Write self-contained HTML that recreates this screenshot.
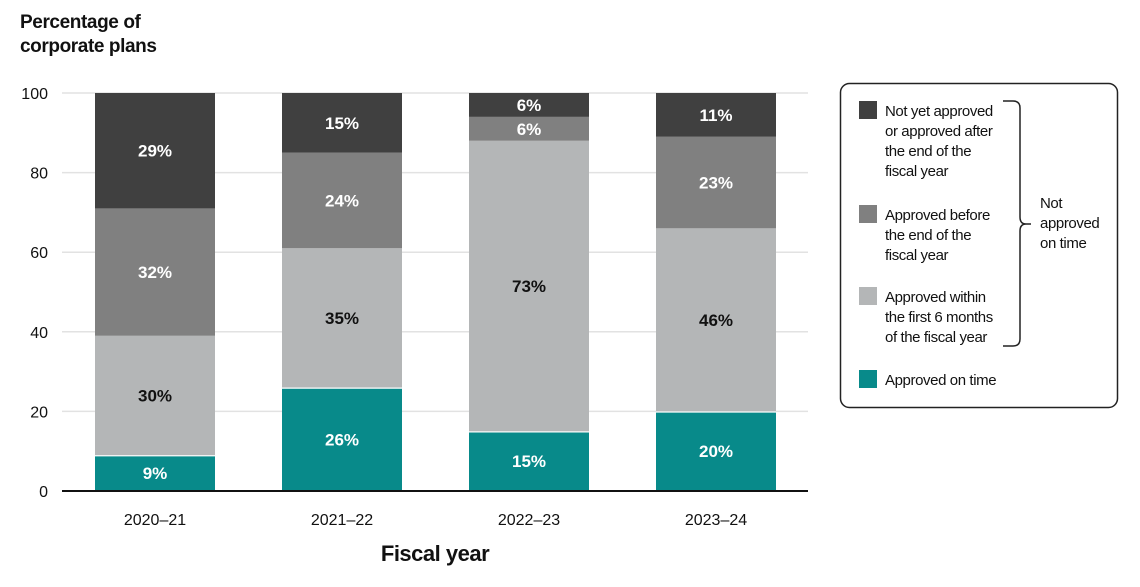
<!DOCTYPE html>
<html><head><meta charset="utf-8"><style>
body{margin:0;background:#fff;}
svg text{font-family:"Liberation Sans Narrow","Liberation Sans",sans-serif;}
</style></head><body>
<svg id="chart" width="1140" height="582" viewBox="0 0 1140 582">
<text x="20" y="28" font-size="19" font-weight="bold" fill="#111" letter-spacing="-0.4"><tspan x="20">Percentage of</tspan><tspan x="20" dy="24">corporate plans</tspan></text>
<g id="grid"></g><g id="bars"></g><g id="labels"></g>
<text x="435" y="561" font-size="22" font-weight="bold" text-anchor="middle" fill="#111" letter-spacing="-0.5">Fiscal year</text>
<g letter-spacing="-0.4">
<rect x="840.5" y="83.5" width="277" height="324" rx="9" fill="#fff" stroke="#222" stroke-width="1.5"/>
<rect x="859" y="101" width="18" height="18" fill="#404040"/>
<text font-size="15" fill="#111"><tspan x="885" y="116">Not yet approved</tspan><tspan x="885" y="136">or approved after</tspan><tspan x="885" y="156">the end of the</tspan><tspan x="885" y="176">fiscal year</tspan></text>
<rect x="859" y="205" width="18" height="18" fill="#808080"/>
<text font-size="15" fill="#111"><tspan x="885" y="220">Approved before</tspan><tspan x="885" y="240">the end of the</tspan><tspan x="885" y="260">fiscal year</tspan></text>
<rect x="859" y="287" width="18" height="18" fill="#b4b6b7"/>
<text font-size="15" fill="#111"><tspan x="885" y="302">Approved within</tspan><tspan x="885" y="322">the first 6 months</tspan><tspan x="885" y="342">of the fiscal year</tspan></text>
<rect x="859" y="370" width="18" height="18" fill="#088a8a"/>
<text x="885" y="385" font-size="15" fill="#111">Approved on time</text>
<path d="M1003 101 H1013 Q1020 101 1020 108 V217 Q1020 224 1026 224 H1031 M1026 224 Q1020 224 1020 231 V339 Q1020 346 1013 346 H1003" fill="none" stroke="#222" stroke-width="1.5"/>
<text font-size="15" fill="#111"><tspan x="1040" y="208">Not</tspan><tspan x="1040" y="228">approved</tspan><tspan x="1040" y="248">on time</tspan></text>
</g>
</svg>
<script>
const categories=["2020–21","2021–22","2022–23","2023–24"];
const onTime=[9,26,15,20];
const sixMonths=[30,35,73,46];
const beforeEnd=[32,24,6,23];
const late=[29,15,6,11];
const yTicks=[0,20,40,60,80,100];
const NS="http://www.w3.org/2000/svg";
const x0=62,x1=808,y0=491,yTop=93;
const y=v=>y0-(v/100)*(y0-yTop);
const step=187,bw=120,firstCenter=155;
const cx=i=>firstCenter+i*step;
function mk(tag,attrs,parent){const e=document.createElementNS(NS,tag);for(const k in attrs)e.setAttribute(k,attrs[k]);parent.appendChild(e);return e;}
const grid=document.getElementById('grid'),bars=document.getElementById('bars'),labels=document.getElementById('labels');
yTicks.forEach(t=>{
 if(t>0){const l=mk('line',{x1:x0,x2:x1,y1:y(t),y2:y(t),stroke:'#e2e2e2','stroke-width':1.5},grid);
 
 }
 const tx=mk('text',{x:48,y:y(t)+6,'font-size':16,'text-anchor':'end',fill:'#111'},grid);
 
 
 tx.textContent=t;
});
const series=[{d:onTime,c:'#088a8a',tc:'#fff',n:'on-time'},{d:sixMonths,c:'#b4b6b7',tc:'#111',n:'six-months'},{d:beforeEnd,c:'#808080',tc:'#fff',n:'before-end'},{d:late,c:'#404040',tc:'#fff',n:'late'}];
categories.forEach((cat,i)=>{
 let base=0;
 series.forEach((s,si)=>{
  const v=s.d[i];const top=base+v;
  const yt=y(top),yb=y(base);
  const r=mk('rect',{x:cx(i)-bw/2,y:yt,width:bw,height:Math.max(0,yb-yt),fill:s.c},bars);
  
  
  if(si===0){const w=mk('line',{x1:cx(i)-bw/2,x2:cx(i)+bw/2,y1:yt,y2:yt,stroke:'#fff','stroke-width':2.5},bars);
   
   }
  const t=mk('text',{x:cx(i),y:(yt+yb)/2+6,'font-size':17,'font-weight':'bold','text-anchor':'middle',fill:s.tc},labels);
  
  
  t.textContent=v+'%';
  base=top;
 });
 const xl=mk('text',{x:cx(i),y:525,'font-size':16,'text-anchor':'middle',fill:'#111'},labels);
 
 
 xl.textContent=cat;
});
const ax=mk('line',{x1:x0,x2:x1,y1:y0,y2:y0,stroke:'#111','stroke-width':2},labels);


</script>
</body></html>
